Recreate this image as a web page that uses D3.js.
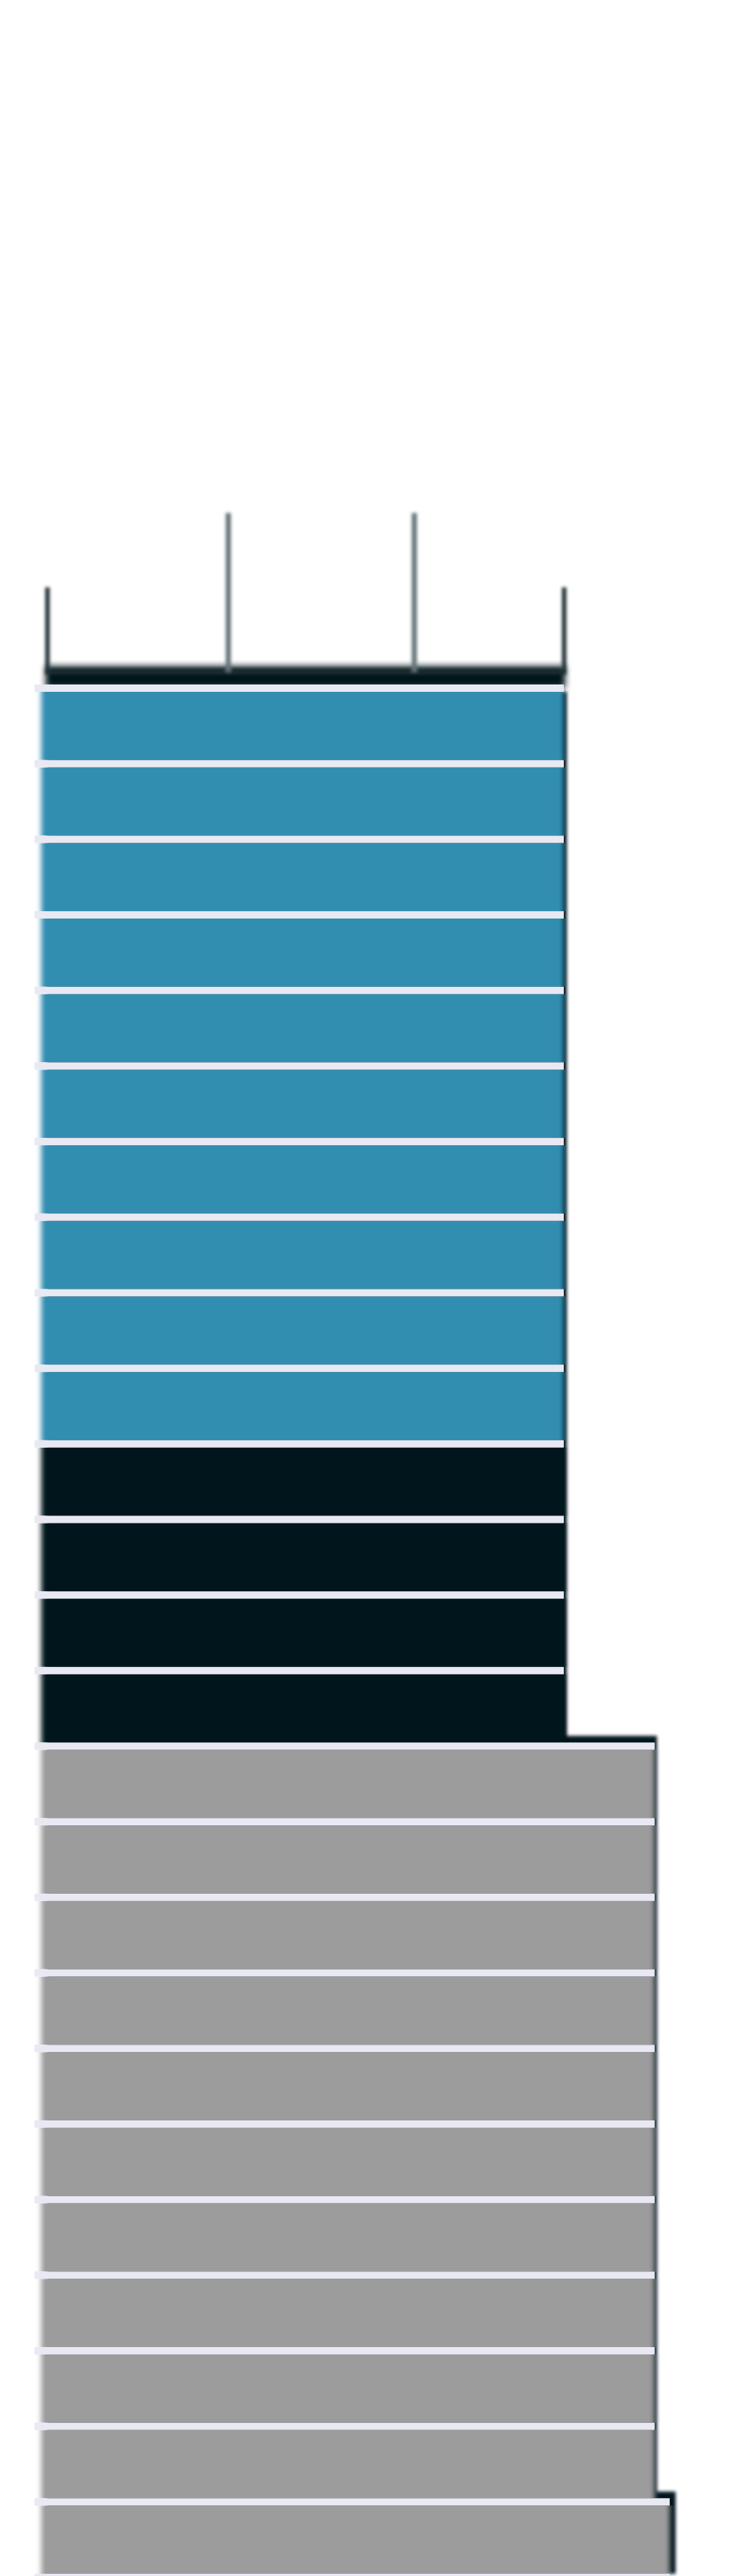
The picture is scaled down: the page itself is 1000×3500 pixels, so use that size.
<!DOCTYPE html>
<html>
<head>
<meta charset="utf-8">
<script src="https://cdn.jsdelivr.net/npm/d3@7"></script>
<style>
  html, body { margin: 0; padding: 0; background: #ffffff; }
  svg { display: block; }
</style>
</head>
<body>
<svg id="chart" width="1000" height="3500"></svg>
<script>
// ---- data ----
const categories = ["r01","r02","r03","r04","r05","r06","r07","r08","r09","r10",
                    "r11","r12","r13","r14",
                    "r15","r16","r17","r18","r19","r20","r21","r22","r23","r24","r25"];
const values = [100,100,100,100,100,100,100,100,100,100,
                100,100,100,100,
                117.6,117.6,117.6,117.6,117.6,117.6,117.6,117.6,117.6,117.6,
                120.5];
const groups = ["blue","blue","blue","blue","blue","blue","blue","blue","blue","blue",
                "black","black","black","black",
                "gray","gray","gray","gray","gray","gray","gray","gray","gray","gray",
                "gray"];
const tickValues = [35, 71];
const axisDomain = [0, 100];

// ---- styles ----
const colors = { blue: "#318eb1", black: "#05151c", gray: "#9c9c9c" };
const gapColor = "#e9e9f3";
const shadowColor = "#05151c";

const svg = d3.select("#chart");
const defs = svg.append("defs");
defs.append("filter").attr("id", "hblur").attr("x", "-5%").attr("width", "110%")
  .append("feGaussianBlur").attr("stdDeviation", "3.5 0");
defs.append("filter").attr("id", "blur2").attr("x", "-10%").attr("y", "-10%").attr("width", "120%").attr("height", "120%")
  .append("feGaussianBlur").attr("stdDeviation", 2.2);
defs.append("filter").attr("id", "blur4").attr("x", "-10%").attr("y", "-200%").attr("width", "120%").attr("height", "500%")
  .append("feGaussianBlur").attr("stdDeviation", 4);
defs.append("filter").attr("id", "tickblur").attr("x", "-200%").attr("y", "-10%").attr("width", "500%").attr("height", "120%")
  .append("feGaussianBlur").attr("stdDeviation", 2);

const data = categories.map((c, i) => ({ cat: c, value: values[i], group: groups[i] }));

const x = d3.scaleLinear().domain(axisDomain).range([64, 766]);
const gapFrac = 0.0974;
const y = d3.scaleBand().domain(categories).range([930, 3507])
  .paddingInner(gapFrac).paddingOuter(gapFrac).align(0.5);
const gap = y.step() - y.bandwidth();
const barInset = 8;

// segments of consecutive rows sharing the same value (for the dark backing shape)
const segments = [];
data.forEach((d, i) => {
  const last = segments[segments.length - 1];
  if (last && last.value === d.value) last.end = i;
  else segments.push({ value: d.value, start: i, end: i });
});

// dark backing (shadow) of each segment
svg.append("g").attr("filter", "url(#blur2)")
  .selectAll("rect").data(segments.slice(1)).join("rect")
  .attr("x", d => x(0))
  .attr("y", d => y(categories[d.start]) - gap - 9)
  .attr("width", d => x(d.value) - x(0) + (d.start === d.end ? 8 : 3))
  .attr("height", d => y(categories[d.end]) + y.bandwidth() - y(categories[d.start]) + gap + 9)
  .attr("fill", shadowColor);
svg.append("g").attr("filter", "url(#blur2)")
  .selectAll("rect").data(segments.slice(0, 1)).join("rect")
  .attr("x", d => x(0))
  .attr("y", d => y(categories[d.start]))
  .attr("width", d => x(d.value) - x(0) + 4)
  .attr("height", d => y(categories[d.end]) + y.bandwidth() - y(categories[d.start]))
  .attr("fill", shadowColor);

// top axis
const axisY = y(categories[0]) - gap - 17;
const axisG = svg.append("g").attr("transform", `translate(0,${axisY})`);
axisG.append("rect")
  .attr("x", x(axisDomain[0]) - 2)
  .attr("y", -8)
  .attr("width", x(axisDomain[1]) - x(axisDomain[0]) + 4)
  .attr("height", 30)
  .attr("fill", shadowColor)
  .attr("filter", "url(#blur4)");
const ax = axisG.append("g").attr("filter", "url(#tickblur)")
  .call(d3.axisTop(x).tickValues(tickValues).tickSizeInner(216).tickSizeOuter(115).tickFormat(""));
ax.select(".domain").attr("stroke", "#1e2d33").attr("stroke-width", 6).attr("fill", "none");
ax.selectAll(".tick line").attr("stroke", "#66757a").attr("stroke-width", 7);

// bars
svg.append("g").attr("filter", "url(#hblur)")
  .selectAll("rect").data(data).join("rect")
  .attr("x", x(0) - barInset)
  .attr("y", d => y(d.cat))
  .attr("width", d => x(d.value) - x(0) + barInset)
  .attr("height", y.bandwidth())
  .attr("fill", d => colors[d.group]);

// light gaps between rows (drawn crisp on top)
svg.append("g")
  .selectAll("rect").data(data).join("rect")
  .attr("x", x(0) - 17)
  .attr("y", d => y(d.cat) - gap)
  .attr("width", d => x(d.value) - x(0) + 17)
  .attr("height", gap)
  .attr("fill", gapColor);
svg.append("g")
  .selectAll("rect").data(data.slice(-1)).join("rect")
  .attr("x", x(0) - 17)
  .attr("y", d => y(d.cat) + y.bandwidth())
  .attr("width", d => x(d.value) - x(0) + 17)
  .attr("height", gap)
  .attr("fill", gapColor);
</script>
</body>
</html>
